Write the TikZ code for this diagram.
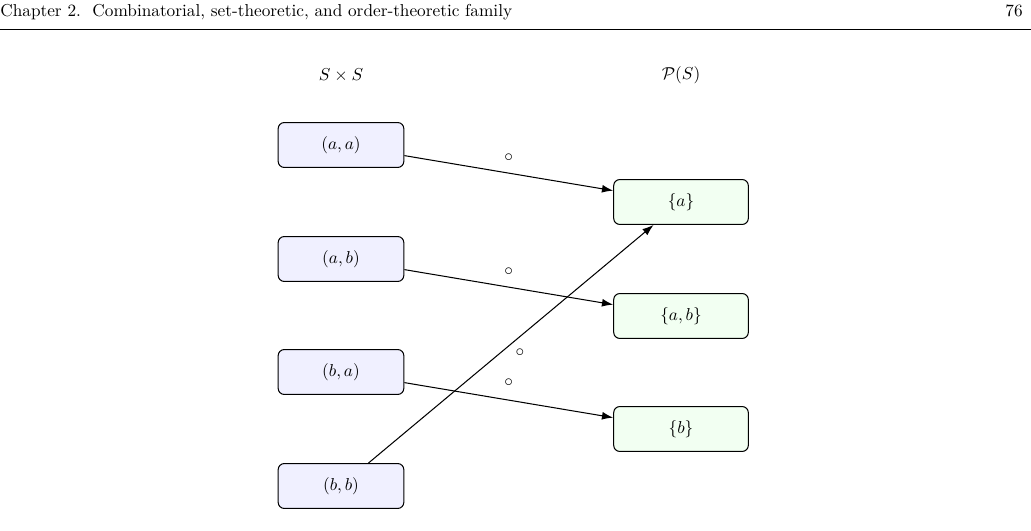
\documentclass[tikz,border=0pt]{standalone}
\usepackage{amsmath,amsfonts,amssymb}
\usepackage{xcolor}
\usetikzlibrary{arrows.meta}

\begin{document}
\begin{tikzpicture}[x=0.5795pt,y=-0.5795pt,
  pairbox/.style={draw=black,semithick,rounded corners=3.5pt,fill=blue!6,
    minimum width=72.8pt,minimum height=26pt,inner sep=0pt},
  setbox/.style={draw=black,semithick,rounded corners=3.5pt,fill=green!5,
    minimum width=78pt,minimum height=26pt,inner sep=0pt},
  maparrow/.style={semithick,-{Latex[length=6.5pt,width=4.6pt]}}]
\useasboundingbox (0,0) rectangle (1031,531);
% page header
\node[anchor=base west,inner sep=0pt] (head) at (0,17) {Chapter 2.\ \ Combinatorial, set-theoretic, and order-theoretic family};
\node[anchor=base east,inner sep=0pt] (page) at (1023,17) {76};
\draw[line width=0.4pt] (0,29) -- (1031,29);
% column titles
\node (sxs) at (341,75) {$S\times S$};
\node (pws) at (681,75) {$\mathcal{P}(S)$};
% pairs
\node[pairbox] (aa) at (341,145) {$(a,a)$};
\node[pairbox] (ab) at (341,259) {$(a,b)$};
\node[pairbox] (ba) at (341,372) {$(b,a)$};
\node[pairbox] (bb) at (341,486) {$(b,b)$};
% subsets
\node[setbox] (sa) at (681,202) {$\{a\}$};
\node[setbox] (sab) at (681,316) {$\{a,b\}$};
\node[setbox] (sb) at (681,429) {$\{b\}$};
% maps
\draw[maparrow] (aa) -- node[above=3pt] {$\circ$} (sa);
\draw[maparrow] (ab) -- node[above=3pt] {$\circ$} (sab);
\draw[maparrow] (ba) -- node[above=4pt] {$\circ$} (sb);
\draw[maparrow] (bb) -- node[below right=-1pt] {$\circ$} (sa);
\end{tikzpicture}
\end{document}
